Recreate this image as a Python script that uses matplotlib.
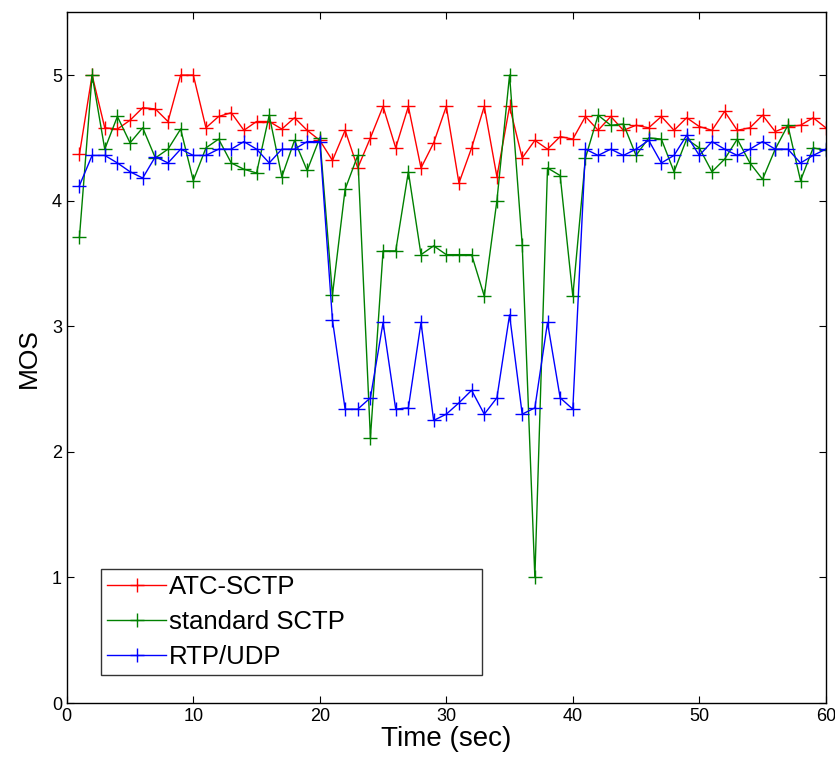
import numpy as np
import matplotlib
matplotlib.use("Agg")
import matplotlib.pyplot as plt

plt.rcParams["font.family"] = ["Liberation Sans", "DejaVu Sans"]

time = np.arange(1, 61)

atc_sctp = [
    4.37, 5.00, 4.58, 4.57, 4.64, 4.74, 4.73, 4.63, 5.00, 5.00,
    4.58, 4.67, 4.70, 4.56, 4.63, 4.63, 4.57, 4.66, 4.56, 4.48,
    4.32, 4.56, 4.26, 4.50, 4.75, 4.42, 4.75, 4.26, 4.46, 4.75,
    4.14, 4.42, 4.75, 4.19, 4.75, 4.34, 4.48, 4.41, 4.51, 4.49,
    4.67, 4.56, 4.67, 4.56, 4.60, 4.58, 4.67, 4.56, 4.66, 4.59,
    4.56, 4.71, 4.56, 4.58, 4.68, 4.55, 4.59, 4.60, 4.66, 4.58,
]

standard_sctp = [
    3.71, 5.00, 4.41, 4.67, 4.46, 4.58, 4.34, 4.41, 4.57, 4.16,
    4.42, 4.49, 4.30, 4.25, 4.22, 4.68, 4.19, 4.48, 4.24, 4.50,
    3.25, 4.09, 4.36, 2.11, 3.60, 3.60, 4.23, 3.57, 3.64, 3.57,
    3.57, 3.57, 3.24, 4.00, 5.00, 3.65, 1.00, 4.26, 4.20, 3.24,
    4.34, 4.68, 4.60, 4.61, 4.36, 4.50, 4.49, 4.23, 4.49, 4.42,
    4.23, 4.33, 4.49, 4.30, 4.17, 4.41, 4.60, 4.16, 4.42, 4.40,
]

rtp_udp = [
    4.12, 4.36, 4.36, 4.30, 4.23, 4.18, 4.35, 4.30, 4.41, 4.36,
    4.36, 4.41, 4.41, 4.47, 4.41, 4.30, 4.41, 4.41, 4.47, 4.47,
    3.05, 2.34, 2.34, 2.43, 3.03, 2.34, 2.35, 3.03, 2.25, 2.30,
    2.39, 2.49, 2.30, 2.43, 3.09, 2.30, 2.35, 3.03, 2.43, 2.34,
    4.41, 4.36, 4.41, 4.36, 4.41, 4.48, 4.30, 4.36, 4.52, 4.36,
    4.47, 4.41, 4.36, 4.41, 4.47, 4.41, 4.41, 4.30, 4.36, 4.41,
]

labels = ["ATC-SCTP", "standard SCTP", "RTP/UDP"]
colors = ["#ff0000", "#008000", "#0000ff"]

fig = plt.figure(figsize=(8.35, 7.65), dpi=100)
ax = fig.add_axes([0.080, 0.081, 0.909, 0.903])

for series, label, color in zip([atc_sctp, standard_sctp, rtp_udp], labels, colors):
    ax.plot(time, series, color=color, marker="+", markersize=10,
            markeredgewidth=1.0, linewidth=1.0, label=label)

ax.set_xlim(0, 60)
ax.set_ylim(0, 5.5)
ax.set_xticks(np.arange(0, 61, 10))
ax.set_yticks(np.arange(0, 6, 1))
ax.tick_params(direction="in", top=True, right=True, labelsize=13, length=5, width=0.8)
for s in ax.spines.values():
    s.set_linewidth(1.0)

ax.set_xlabel("Time (sec)", fontsize=20, labelpad=1)
ax.set_ylabel("MOS", fontsize=19, labelpad=8)

leg = ax.legend(loc="lower left", bbox_to_anchor=(0.045, 0.04, 0.502, 0.168),
                mode="expand", fontsize=18.5, frameon=True, fancybox=False,
                edgecolor="black", handlelength=2.3, handletextpad=0.1,
                borderaxespad=0, labelspacing=0.42, borderpad=0.25)
leg.get_frame().set_linewidth(1.0)

fig.savefig("out.png", dpi=100)
